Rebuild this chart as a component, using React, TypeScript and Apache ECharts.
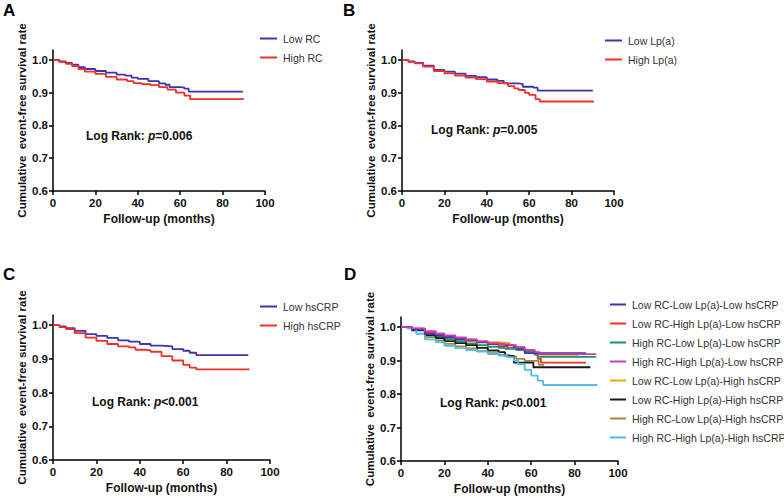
import React, { useEffect, useRef } from "react";
import * as echarts from "echarts";

// ---------- data (month, cumulative event-free survival) ----------
const LOW_RC = [[0,1],[3,0.995],[6,0.991],[9,0.985],[12,0.978],[15,0.972],[20,0.966],[25,0.961],[30,0.955],[34,0.952],[37,0.946],[40,0.942],[45,0.935],[50,0.928],[53,0.924],[55,0.917],[60,0.915],[62,0.912],[64,0.903],[89.6,0.903]];
const HIGH_RC = [[0,1],[3,0.994],[6,0.988],[9,0.981],[12,0.972],[15,0.964],[20,0.957],[25,0.948],[30,0.94],[35,0.935],[38,0.929],[42,0.926],[46,0.923],[50,0.917],[54,0.909],[58,0.9],[62,0.891],[64.7,0.88],[90,0.88]];

const LOW_LPA = [[0,1],[3,0.995],[6,0.991],[10,0.982],[15,0.969],[20,0.964],[25,0.958],[30,0.951],[35,0.947],[40,0.94],[45,0.936],[48,0.928],[55,0.926],[57,0.918],[62,0.915],[64,0.906],[90,0.906]];
const HIGH_LPA = [[0,1],[3,0.994],[6,0.989],[10,0.979],[15,0.966],[20,0.959],[25,0.952],[30,0.946],[35,0.941],[40,0.934],[45,0.929],[50,0.92],[53,0.913],[55,0.908],[58,0.899],[60,0.893],[63,0.88],[65,0.873],[90.5,0.873]];

const LOW_HSCRP = [[0,1],[3,0.996],[6,0.991],[10,0.983],[15,0.973],[20,0.968],[25,0.962],[30,0.955],[35,0.951],[40,0.944],[45,0.939],[50,0.937],[55,0.929],[60,0.924],[63,0.918],[66,0.911],[90,0.911]];
const HIGH_HSCRP = [[0,1],[3,0.994],[6,0.988],[10,0.976],[15,0.963],[20,0.953],[25,0.944],[30,0.937],[35,0.934],[38,0.927],[42,0.925],[45,0.921],[50,0.908],[55,0.895],[60,0.882],[63,0.874],[66,0.869],[90.5,0.869]];

const LLL = [[0,1],[5,0.993],[11,0.979],[16,0.975],[20,0.969],[25,0.963],[30,0.961],[35,0.955],[40,0.95],[45,0.948],[48,0.945],[52,0.94],[54,0.934],[57,0.922],[85.3,0.922]];
const LHL = [[0,1],[5,0.995],[11,0.983],[16,0.976],[20,0.971],[25,0.965],[30,0.959],[35,0.954],[40,0.948],[45,0.943],[49,0.937],[53,0.933],[57,0.929],[61.5,0.918],[63,0.905],[64.5,0.894],[85.3,0.894]];
const HLL = [[0,1],[5,0.99],[11,0.975],[16,0.971],[20,0.964],[25,0.958],[30,0.951],[35,0.946],[40,0.941],[45,0.938],[48,0.935],[53,0.932],[57,0.926],[62,0.918],[63,0.911],[90,0.911]];
const HHL = [[0,1],[5,0.996],[11,0.988],[16,0.981],[20,0.975],[25,0.969],[30,0.963],[35,0.957],[40,0.952],[45,0.948],[50,0.945],[53,0.94],[57,0.932],[61.5,0.925],[64,0.919],[90,0.919]];
const LLH = [[0,1],[5,0.994],[11,0.982],[16,0.977],[20,0.972],[25,0.966],[30,0.962],[35,0.958],[40,0.955],[45,0.953],[50,0.947],[53,0.94],[57,0.93],[62,0.922],[64,0.917],[82,0.917]];
const LHH = [[0,1],[5,0.992],[11,0.976],[16,0.967],[20,0.958],[25,0.952],[30,0.946],[35,0.938],[40,0.93],[45,0.925],[48,0.914],[52,0.894],[61,0.88],[87.3,0.88]];
const HLH = [[0,1],[5,0.99],[11,0.97],[16,0.96],[20,0.95],[25,0.942],[30,0.936],[35,0.928],[40,0.92],[45,0.917],[50,0.912],[53,0.905],[57,0.899],[63.5,0.887],[66,0.887]];
const HHH = [[0,1],[3,0.995],[7,0.98],[11,0.963],[16,0.955],[20,0.944],[25,0.937],[30,0.931],[35,0.927],[40,0.923],[45,0.915],[49,0.91],[52,0.9],[54,0.889],[57,0.872],[60,0.855],[63,0.84],[65.5,0.827],[90.5,0.827]];

const PANEL_LETTERS = ["A", "B", "C", "D"];
const P_TEXTS = ["=0.006", "=0.005", "<0.001", "<0.001"];
const Y_TICKS = [0.6, 0.7, 0.8, 0.9, 1.0];
const X_TICKS = [0, 20, 40, 60, 80, 100];
const X_TITLE = "Follow-up (months)";
const Y_TITLE = "Cumulative  event-free survival rate";

const NAMES_A = ["Low RC", "High RC"];
const NAMES_B = ["Low Lp(a)", "High Lp(a)"];
const NAMES_C = ["Low hsCRP", "High hsCRP"];
const NAMES_D = [
  "Low RC-Low Lp(a)-Low hsCRP",
  "Low RC-High Lp(a)-Low hsCRP",
  "High RC-Low Lp(a)-Low hsCRP",
  "High RC-High Lp(a)-Low hsCRP",
  "Low RC-Low Lp(a)-High hsCRP",
  "Low RC-High Lp(a)-High hsCRP",
  "High RC-Low Lp(a)-High hsCRP",
  "High RC-High Lp(a)-High hsCRP",
];

const BLUE = "#3b35b0";
const RED = "#ee3124";
const COLORS_D = [BLUE, RED, "#17995a", "#c83cba", "#f7a21b", "#1a1a1a", "#a8843f", "#4fbde8"];

const FONT = "'Liberation Sans', Arial, Helvetica, sans-serif";

// layout of the four panels
const GRIDS = [
  { left: 53, top: 50, width: 212, height: 141 },
  { left: 402, top: 50, width: 212, height: 141 },
  { left: 53, top: 315, width: 217, height: 145 },
  { left: 401, top: 317, width: 217, height: 144 },
];
const LEGEND_POS = [
  { left: 255, top: 27 },
  { left: 600, top: 29 },
  { left: 255, top: 295 },
  { left: 605, top: 293 },
];
const LETTER_POS = [
  { x: 3, y: 2 },
  { x: 343, y: 2 },
  { x: 3, y: 266 },
  { x: 344, y: 266 },
];
const LOGRANK_POS = [
  { x: 86, y: 136 },
  { x: 431, y: 130 },
  { x: 92, y: 402 },
  { x: 440, y: 403 },
];

export default function App() {
  const ref = useRef<HTMLDivElement>(null);

  useEffect(() => {
    if (!ref.current) return;
    const chart = echarts.init(ref.current, null, { renderer: "svg" });

    const axisLine = { show: true, lineStyle: { color: "#000", width: 1.5 } };
    const xAxes = GRIDS.map((_, i) => ({
      type: "value",
      gridIndex: i,
      min: 0,
      max: 100,
      interval: 20,
      axisLine,
      axisTick: { show: true, length: 4, lineStyle: { color: "#000", width: 1.5 } },
      splitLine: { show: false },
      axisLabel: {
        fontFamily: FONT,
        fontWeight: "bold",
        fontSize: 11.5,
        color: "#111",
        margin: 6,
        customValues: X_TICKS,
      },
      name: X_TITLE,
      nameLocation: "middle",
      nameGap: 22,
      nameTextStyle: { fontFamily: FONT, fontWeight: "bold", fontSize: 12, color: "#111" },
    }));
    const yAxes = GRIDS.map((_, i) => ({
      type: "value",
      gridIndex: i,
      min: 0.6,
      max: 1.03,
      interval: 0.1,
      axisLine,
      axisTick: {
        show: true,
        length: 4,
        lineStyle: { color: "#000", width: 1.5 },
        customValues: Y_TICKS,
      },
      splitLine: { show: false },
      axisLabel: {
        fontFamily: FONT,
        fontWeight: "bold",
        fontSize: 11.5,
        color: "#111",
        margin: 5,
        customValues: Y_TICKS,
        formatter: (v: number) => (v > 1.001 ? "" : v.toFixed(1)),
      },
      name: Y_TITLE,
      nameLocation: "middle",
      nameGap: 22,
      nameTextStyle: { fontFamily: FONT, fontWeight: "bold", fontSize: 11.5, color: "#111" },
    }));

    const mk = (name: string, data: number[][], color: string, idx: number, z = 2) => ({
      type: "line",
      name,
      data,
      xAxisIndex: idx,
      yAxisIndex: idx,
      step: "end",
      showSymbol: false,
      symbol: "none",
      z,
      lineStyle: { color, width: 1.8 },
      itemStyle: { color },
    });

    const series = [
      mk(NAMES_A[0], LOW_RC, BLUE, 0),
      mk(NAMES_A[1], HIGH_RC, RED, 0),
      mk(NAMES_B[0], LOW_LPA, BLUE, 1),
      mk(NAMES_B[1], HIGH_LPA, RED, 1),
      mk(NAMES_C[0], LOW_HSCRP, BLUE, 2),
      mk(NAMES_C[1], HIGH_HSCRP, RED, 2),
      mk(NAMES_D[0], LLL, COLORS_D[0], 3, 4),
      mk(NAMES_D[1], LHL, COLORS_D[1], 3, 3),
      mk(NAMES_D[2], HLL, COLORS_D[2], 3, 3),
      mk(NAMES_D[3], HHL, COLORS_D[3], 3, 4),
      mk(NAMES_D[4], LLH, COLORS_D[4], 3, 2),
      mk(NAMES_D[5], LHH, COLORS_D[5], 3, 3),
      mk(NAMES_D[6], HLH, COLORS_D[6], 3, 2),
      mk(NAMES_D[7], HHH, COLORS_D[7], 3, 3),
    ];

    const legendNames = [NAMES_A, NAMES_B, NAMES_C, NAMES_D];
    const legends = legendNames.map((names, i) => ({
      data: names,
      orient: "vertical",
      left: LEGEND_POS[i].left,
      top: LEGEND_POS[i].top,
      icon: "rect",
      itemWidth: i === 3 ? 16 : 17,
      itemHeight: 2,
      itemGap: 6,
      selectedMode: false,
      textStyle: { fontFamily: FONT, fontSize: 10.5, color: "#333", lineHeight: 13, padding: [0, 0, 0, 1] },
    }));

    const graphics: any[] = [];
    PANEL_LETTERS.forEach((l, i) => {
      graphics.push({
        type: "text",
        x: LETTER_POS[i].x,
        y: LETTER_POS[i].y,
        style: { text: l, fontFamily: FONT, fontWeight: "bold", fontSize: 17, fill: "#000" },
      });
      graphics.push({
        type: "text",
        x: LOGRANK_POS[i].x,
        y: LOGRANK_POS[i].y,
        style: {
          text: "{b|Log Rank: }{i|p}{b|" + P_TEXTS[i] + "}",
          verticalAlign: "middle",
          rich: {
            b: { fontFamily: FONT, fontWeight: "bold", fontSize: 12, fill: "#111" },
            i: { fontFamily: FONT, fontWeight: "bold", fontStyle: "italic", fontSize: 12, fill: "#111" },
          },
        },
      });
    });

    chart.setOption({
      animation: false,
      backgroundColor: "#fff",
      grid: GRIDS.map((g) => ({ ...g, containLabel: false })),
      xAxis: xAxes,
      yAxis: yAxes,
      legend: legends,
      series,
      graphic: graphics,
    } as any);

    return () => chart.dispose();
  }, []);

  return (
    <div
      ref={ref}
      style={{ position: "fixed", left: 0, top: 0, width: 784, height: 498, background: "#fff" }}
    />
  );
}
